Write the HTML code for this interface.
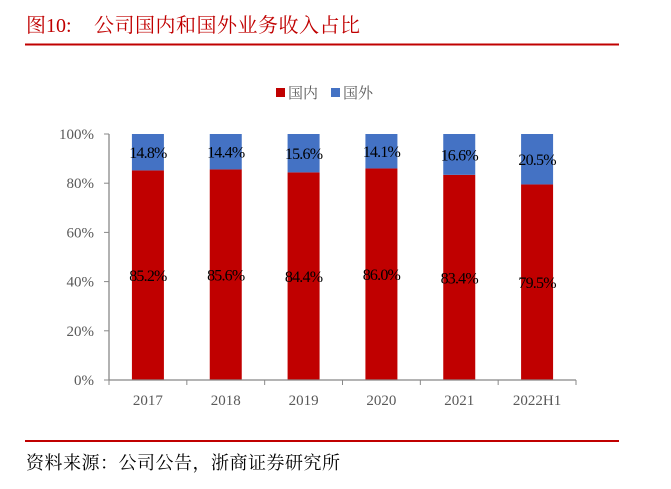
<!DOCTYPE html>
<html><head><meta charset="utf-8"><style>
body{margin:0;background:#fff;width:671px;height:484px;overflow:hidden;font-family:"Liberation Serif","Noto Serif CJK SC",serif;}
</style></head><body>
<svg width="671" height="484" xmlns="http://www.w3.org/2000/svg">
<text x="26" y="32" font-size="20" fill="#c00000" font-family="Liberation Serif, Noto Serif CJK SC, serif">图10:</text>
<text x="94" y="32" font-size="20" fill="#c00000" letter-spacing="0.5" font-family="Liberation Serif, Noto Serif CJK SC, serif">公司国内和国外业务收入占比</text>
<line x1="25" y1="44.5" x2="619" y2="44.5" stroke="#c00000" stroke-width="2"/>
<g>
<rect x="276" y="88" width="9" height="9" fill="#c00000"/>
<text x="288" y="98" font-size="15" fill="#595959">国内</text>
<rect x="331" y="88" width="9" height="9" fill="#4472c4"/>
<text x="343" y="98" font-size="15" fill="#595959">国外</text>
</g>
<g id="plot"></g>
<line x1="25" y1="441" x2="619" y2="441" stroke="#c00000" stroke-width="2"/>
<text x="26" y="469" font-size="18" fill="#000" letter-spacing="0.5">资料来源：公司公告，浙商证券研究所</text>
</svg>
<script>
const categories=["2017","2018","2019","2020","2021","2022H1"];
const domestic=[85.2,85.6,84.4,86.0,83.4,79.5];
const overseas=[14.8,14.4,15.6,14.1,16.6,20.5];
const yTicks=[0,20,40,60,80,100];
const NS="http://www.w3.org/2000/svg";
const g=document.getElementById('plot');
const X0=109,X1=576,Y0=380,Y1=134,BW=32;
const bw=(X1-X0)/categories.length;
const y=v=>Y0-(v/100)*(Y0-Y1);
const xc=i=>X0+bw*(i+0.5);
function mk(t,a){const e=document.createElementNS(NS,t);for(const k in a)e.setAttribute(k,a[k]);g.appendChild(e);return e;}
let e=mk('line',{x1:X0,y1:Y1,x2:X0,y2:Y0,stroke:'#888','stroke-width':1.3});


yTicks.forEach(t=>{
 let l=mk('line',{x1:X0-5,y1:y(t),x2:X0,y2:y(t),stroke:'#888'});
 
 
 let tx=mk('text',{x:94,y:y(t)+5,'text-anchor':'end','font-size':15,fill:'#595959'});
 tx.textContent=t+'%';
 
 
});
categories.forEach((c,i)=>{
 const cx=xc(i);
 let r=mk('rect',{x:cx-BW/2,y:y(domestic[i]),width:BW,height:Y0-y(domestic[i]),fill:'#c00000'});
 
 
 let b=mk('rect',{x:cx-BW/2,y:y(100),width:BW,height:y(domestic[i])-y(100),fill:'#4472c4'});
 
 
 let t1=mk('text',{x:cx,y:(y(domestic[i])+Y0)/2+6,'text-anchor':'middle','font-size':16,fill:'#000','letter-spacing':-0.8});
 t1.textContent=domestic[i].toFixed(1)+'%';
 
 
 let t2=mk('text',{x:cx,y:(y(domestic[i])+y(100))/2+6,'text-anchor':'middle','font-size':16,fill:'#000','letter-spacing':-0.8});
 t2.textContent=overseas[i].toFixed(1)+'%';
 
 
 let xl=mk('text',{x:cx,y:405,'text-anchor':'middle','font-size':15,fill:'#595959'});
 xl.textContent=c;
 
 
});
for(let i=0;i<=categories.length;i++){
 let l=mk('line',{x1:X0+bw*i,y1:Y0,x2:X0+bw*i,y2:Y0+5,stroke:'#888'});
 
 
}
e=mk('line',{x1:X0,y1:Y0,x2:X1,y2:Y0,stroke:'#888','stroke-width':1.3});


</script>
</body></html>
